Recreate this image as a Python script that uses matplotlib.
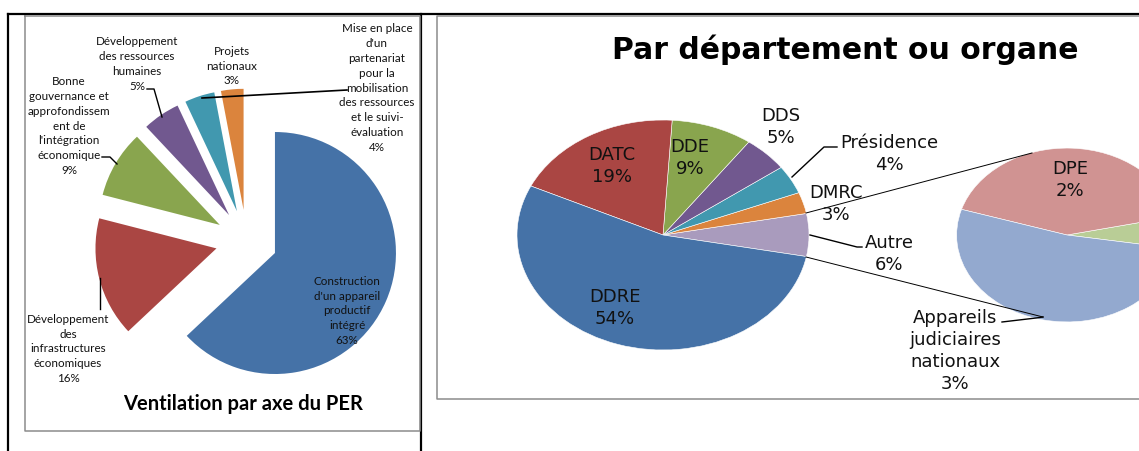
import matplotlib.pyplot as plt

W, H = 1139, 451

# --- left chart: Ventilation par axe du PER ---
axe_labels = ["Construction\nd'un appareil\nproductif\nintégré",
              "Développement\ndes\ninfrastructures\néconomiques",
              "Bonne\ngouvernance et\napprofondissem\nent de\nl'intégration\néconomique",
              "Développement\ndes ressources\nhumaines",
              "Mise en place\nd'un\npartenariat\npour la\nmobilisation\ndes ressources\net le suivi-\névaluation",
              "Projets\nnationaux"]
axe_values = [63, 16, 9, 5, 4, 3]
axe_colors = ['#4572A7', '#AA4643', '#89A54E', '#71588F', '#4198AF', '#DB843D']

# --- right chart: Par département ou organe (pie of pie) ---
dept_labels = ["Autre", "DMRC", "Présidence", "DDS", "DDE", "DATC", "DDRE"]
dept_values = [6, 3, 4, 5, 9, 19, 54]
dept_colors = ['#A99BBD', '#DB843D', '#4198AF', '#71588F', '#89A54E', '#AA4643', '#4572A7']

sub_labels = ["", "DPE", "Appareils\njudiciaires\nnationaux"]
sub_values = [0.34, 2.4, 3.0]
sub_pct = ["", "2%", "3%"]
sub_colors = ['#B9CD96', '#D09392', '#93A9CF']

fig = plt.figure(figsize=(W / 100, H / 100), dpi=100)

# left pie, unit = radius (121 px), centre at pixel (246.5, 240.7)
r1 = 121.0
cx1, cy1 = 246.5, H - 240.7
axL = fig.add_axes([0, 0, 1, 1])
axL.pie(axe_values, colors=axe_colors, startangle=90, counterclock=False,
        explode=[31 / r1] * len(axe_values), radius=1)
axL.set_aspect('auto')
axL.set_xlim(-cx1 / r1, (W - cx1) / r1)
axL.set_ylim(-cy1 / r1, (H - cy1) / r1)
axL.axis('off')

# right pies, stretched horizontally (146 px / 115 px per unit)
sx, sy = 146.0, 115.0
cx2, cy2 = 663.0, H - 235.0
axR = fig.add_axes([0, 0, 1, 1])
start = -dept_values[0] / sum(dept_values) * 180
axR.pie(dept_values, colors=dept_colors, startangle=start, counterclock=True,
        radius=1, wedgeprops=dict(edgecolor='white', linewidth=0.4))
axR.pie(sub_values, colors=sub_colors, startangle=-9, counterclock=True,
        radius=0.756, center=((1067 - cx2) / sx, 0),
        wedgeprops=dict(edgecolor='white', linewidth=0.4))
axR.set_aspect('auto')
axR.set_xlim(-cx2 / sx, (W - cx2) / sx)
axR.set_ylim(-cy2 / sy, (H - cy2) / sy)
axR.axis('off')

# overlay in pixel coordinates
ax = fig.add_axes([0, 0, 1, 1])
ax.set_xlim(0, W)
ax.set_ylim(H, 0)
ax.axis('off')

# frames
ax.plot([8, W], [14, 14], color='black', lw=1.6)
ax.plot([8, 8], [14, H], color='black', lw=1.6)
ax.plot([421, 421], [14, H], color='black', lw=1.6)
ax.plot([25, 25, 420, 420, 25], [16, 431, 431, 16, 16], color='#8c8c8c', lw=1.1)
ax.plot([W + 5, 437, 437, W + 5], [16, 16, 399, 399], color='#8c8c8c', lw=1.1)

# left labels
left_pos = [(347, 311), (68, 349), (69, 126), (137, 64), (377, 88), (232, 66)]
for lab, v, (x, y) in zip(axe_labels, axe_values, left_pos):
    ax.text(x, y, f"{lab}\n{v}%", ha='center', va='center', fontsize=8.4,
            family='Lato', linespacing=1.43, color='#111111')
ax.plot([100, 100], [278, 309], color='black', lw=1.0)
ax.plot([102, 110, 117], [157, 157, 164], color='black', lw=1.0)
ax.plot([147, 154, 162], [89, 89, 117], color='black', lw=1.0)
ax.plot([202, 347], [98, 90], color='black', lw=1.2)
ax.text(243, 404, "Ventilation par axe du PER", ha='center', va='center',
        fontsize=14.5, family='Lato', fontweight='bold')

# right labels
ax.text(845, 50, "Par département ou organe", ha='center', va='center',
        fontsize=21.5, family='DejaVu Sans', fontweight='bold')
right_pos = [(889, 254), (836, 204), (889, 154), (781, 127), (690, 158),
             (612, 166), (615, 308)]
for lab, v, (x, y) in zip(dept_labels, dept_values, right_pos):
    ax.text(x, y, f"{lab}\n{v}%", ha='center', va='center', fontsize=13,
            family='DejaVu Sans', linespacing=1.28, color='#111111')
sub_pos = [(1200, 235), (1070, 180), (955, 351)]
for lab, p, (x, y) in zip(sub_labels, sub_pct, sub_pos):
    if lab:
        ax.text(x, y, f"{lab}\n{p}", ha='center', va='center', fontsize=13,
                family='DejaVu Sans', linespacing=1.28, color='#111111')

ax.plot([792, 824, 837], [177, 147, 147], color='black', lw=1.0)
ax.plot([810, 857, 862], [235, 247, 247], color='black', lw=1.0)
ax.plot([1043, 1036, 1002], [317, 318, 322], color='black', lw=1.0)
ax.plot([806, 1032], [213, 153], color='black', lw=0.7)
ax.plot([806, 1043], [257, 317], color='black', lw=0.7)

fig.savefig("out.png", dpi=100, facecolor='white')
